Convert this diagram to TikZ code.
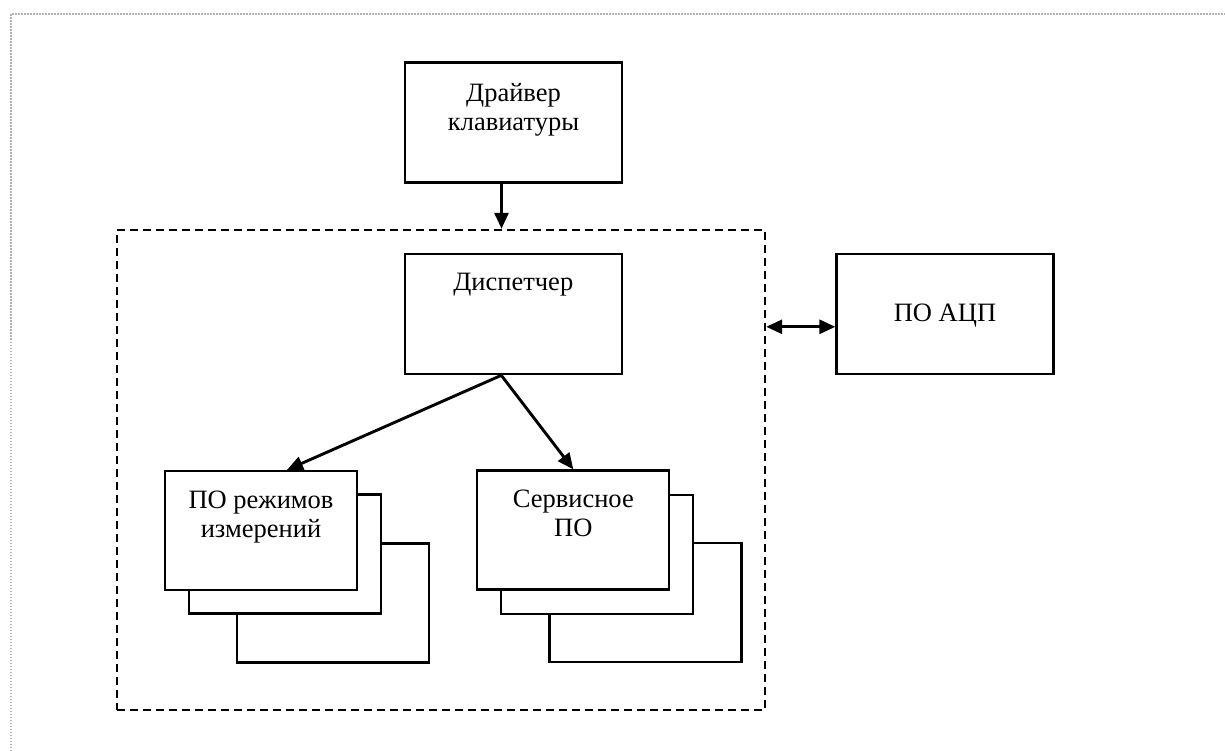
\documentclass[tikz,border=0pt]{standalone}
\usepackage{fontspec}
\setmainfont{Liberation Serif}
\usetikzlibrary{arrows.meta}
\begin{document}
\begin{tikzpicture}[x=1pt,y=-1pt,
  box/.style={draw, line width=2.3pt, fill=white, inner sep=0pt, minimum width=217pt, minimum height=120pt},
  stackbox/.style={draw, line width=2.3pt, fill=white, inner sep=0pt, minimum width=192pt, minimum height=119pt},
  groupbox/.style={draw, line width=2.4pt, dash pattern=on 8pt off 5pt, inner sep=0pt, minimum width=648pt, minimum height=480pt},
  lbl/.style={font=\fontsize{26.5}{29}\selectfont, align=center, inner sep=0pt, anchor=base},
  arr/.style={line width=2.9pt, -{Triangle[length=16pt,width=14pt]}},
  darr/.style={line width=2.9pt, {Triangle[length=16pt,width=14pt]}-{Triangle[length=16pt,width=14pt]}},
  frameline/.style={draw=gray!60, line width=1.6pt, dash pattern=on 1.5pt off 1.5pt}
]
\useasboundingbox (0,0) rectangle (1225,751);
\fill[white] (0,0) rectangle (1225,751);

% page frame
\coordinate (fa) at (11,751);
\coordinate (fb) at (11,14);
\coordinate (fc) at (1225,14);
\draw[frameline] (fa) -- (fb) -- (fc);

% group
\node[groupbox] (grp) at (441,470) {};

% driver
\node[box] (drv) at (513.5,122.5) {};
\node[lbl] (drvt) at (513.5,130.5) {Драйвер\\клавиатуры};

% dispatcher
\node[box] (disp) at (513.3,314.2) {};
\node[lbl] (dispt) at (513.3,290.5) {Диспетчер};

% ADC
\node[box] (adc) at (945,314.3) {};
\node[lbl] (adct) at (945,321) {ПО АЦП};

% left stack
\node[stackbox] (l3) at (333,603) {};
\node[stackbox] (l2) at (285,554) {};
\node[stackbox] (l1) at (261,530.5) {};
\node[lbl] (l1t) at (261,537.5) {ПО режимов\\измерений};

% right stack
\node[stackbox] (r3) at (645.5,602.7) {};
\node[stackbox] (r2) at (596.9,554.3) {};
\node[stackbox] (r1) at (573.3,530) {};
\node[lbl] (r1t) at (573.3,536.5) {Сервисное\\ПО};

% connectors
\draw[arr] ([xshift=-12pt]drv.south) -- ([xshift=-12pt]drv.south |- grp.north);
\draw[arr] ([xshift=-12pt]disp.south) -- ([xshift=26pt]l1.north);
\draw[arr] ([xshift=-12pt]disp.south) -- (r1.north);
\draw[darr] ([yshift=-12.5pt]adc.west -| grp.east) -- ([yshift=-12.5pt]adc.west);
\end{tikzpicture}
\end{document}
